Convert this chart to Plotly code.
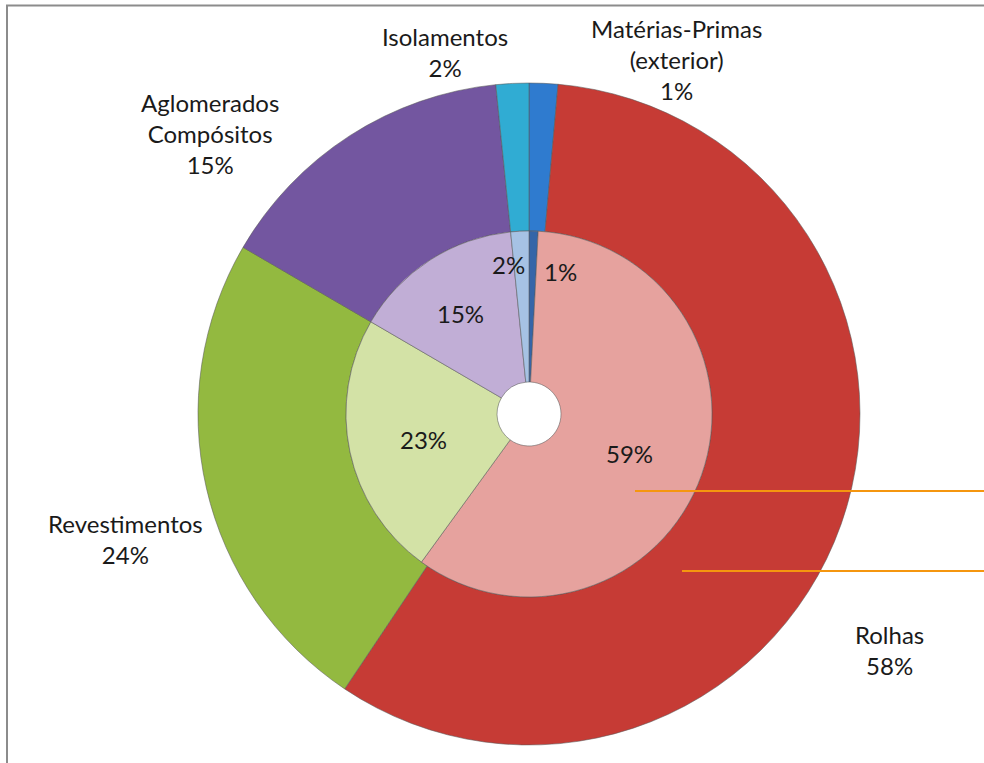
import plotly.graph_objects as go

# ---- data ----
categories = ["Matérias-Primas<br>(exterior)", "Rolhas", "Revestimentos",
              "Aglomerados<br>Compósitos", "Isolamentos"]
outer_values = [1.4, 58.0, 24.0, 15.0, 1.6]
inner_values = [0.8, 59.2, 23.4, 15.0, 1.6]

outer_colors = ["#2F7BCF", "#C63B35", "#93B940", "#7356A0", "#30ACD3"]
inner_colors = ["#3565A8", "#E6A29E", "#D3E2A6", "#C1AED6", "#A6C2E4"]

W, H = 984, 763
cx, cy = 529, 414          # pie centre (px, from top)
R_out, R_in, R_hole = 331, 183, 32

def dom(r):
    return dict(x=[(cx - r) / W, (cx + r) / W],
                y=[(H - cy - r) / H, (H - cy + r) / H])

edge = dict(color="rgba(90,90,90,0.55)", width=1)

fig = go.Figure()
fig.add_trace(go.Pie(values=outer_values, labels=categories, sort=False,
                     direction="clockwise", rotation=0, hole=R_in / R_out,
                     marker=dict(colors=outer_colors, line=edge),
                     textinfo="none", hoverinfo="label+percent",
                     domain=dom(R_out), showlegend=False))
fig.add_trace(go.Pie(values=inner_values, labels=categories, sort=False,
                     direction="clockwise", rotation=0, hole=R_hole / R_in,
                     marker=dict(colors=inner_colors, line=edge),
                     textinfo="none", hoverinfo="label+percent",
                     domain=dom(R_in), showlegend=False))

FONT = dict(family="Lato, 'Open Sans', sans-serif", size=24, color="#1a1a1a")

def pct(v, total):
    return f"{round(v / total * 100):.0f}%"

# outer labels (text centre positions in px)
outer_pos = [(676, 60), (889, 650), (125, 539), (210, 134), (445, 52)]
ot = sum(outer_values)
for name, v, (x, y) in zip(categories, outer_values, outer_pos):
    fig.add_annotation(x=x / W, y=1 - y / H, xref="paper", yref="paper",
                       text=f"{name}<br>{pct(v, ot)}", showarrow=False,
                       font=FONT, align="center", xanchor="center", yanchor="middle")

inner_pos = [(560, 271), (629, 453), (423, 440), (460, 314), (508, 264)]
it = sum(inner_values)
for v, (x, y) in zip(inner_values, inner_pos):
    fig.add_annotation(x=x / W, y=1 - y / H, xref="paper", yref="paper",
                       text=pct(v, it), showarrow=False, font=FONT,
                       xanchor="center", yanchor="middle")

shapes = [
    # chart frame (left and top edges visible)
    dict(type="line", xref="paper", yref="paper", x0=7 / W, x1=7 / W,
         y0=0, y1=1 - 5 / H, line=dict(color="#8C8C8C", width=2)),
    dict(type="line", xref="paper", yref="paper", x0=6 / W, x1=1,
         y0=1 - 5.5 / H, y1=1 - 5.5 / H, line=dict(color="#8C8C8C", width=2)),
    # orange leader lines
    dict(type="line", xref="paper", yref="paper", x0=635 / W, x1=1,
         y0=1 - 491 / H, y1=1 - 491 / H, line=dict(color="#F5960F", width=2)),
    dict(type="line", xref="paper", yref="paper", x0=682 / W, x1=1,
         y0=1 - 571 / H, y1=1 - 571 / H, line=dict(color="#F5960F", width=2)),
]

fig.update_layout(width=W, height=H, margin=dict(l=0, r=0, t=0, b=0),
                  paper_bgcolor="white", plot_bgcolor="white", shapes=shapes)

fig.write_html("out.html", config={"displayModeBar": False},
               post_script="document.body.style.margin='0';"
                           "document.body.style.overflow='hidden';")
